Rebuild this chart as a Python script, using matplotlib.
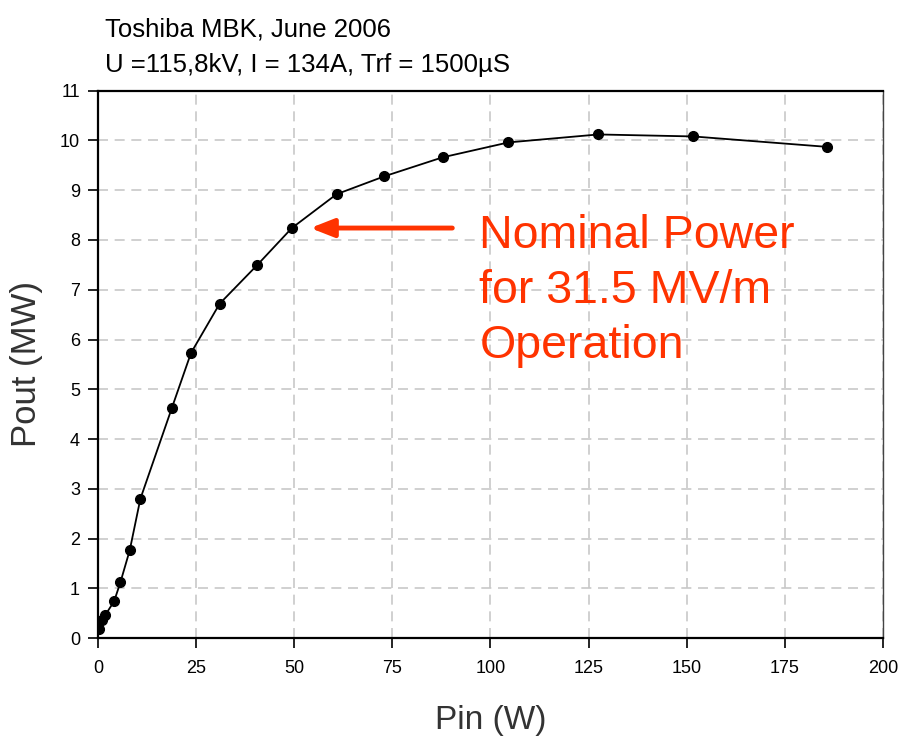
import matplotlib
matplotlib.use('Agg')
import matplotlib.pyplot as plt

# Toshiba MBK transfer curve
pin_w = [0.3, 1.1, 1.8, 4.1, 5.7, 8.1, 10.8, 18.8, 23.7, 31.0, 40.5, 49.4,
         60.8, 73.0, 87.8, 104.6, 127.5, 151.7, 185.9]
pout_mw = [0.19, 0.36, 0.46, 0.74, 1.12, 1.77, 2.80, 4.62, 5.73, 6.72, 7.49,
           8.24, 8.92, 9.28, 9.66, 9.96, 10.12, 10.08, 9.87]

x_ticks = [0, 25, 50, 75, 100, 125, 150, 175, 200]
y_ticks = list(range(0, 12))

title_lines = ["Toshiba MBK, June 2006", "U =115,8kV, I = 134A, Trf = 1500\u00b5S"]
note = "Nominal Power\nfor 31.5 MV/m\nOperation"
note_at = (49.4, 8.24)

plt.rcParams['font.family'] = ['Liberation Sans', 'DejaVu Sans']

fig = plt.figure(figsize=(8.99, 7.43), dpi=100)
ax = fig.add_axes([0.109, 0.141, 0.873, 0.737])

ax.plot(pin_w, pout_mw, color='black', lw=1.3, marker='o', ms=7, zorder=3)

ax.set_xlim(0, 200)
ax.set_ylim(0, 11)
ax.set_xticks(x_ticks)
ax.set_yticks(y_ticks)
ax.tick_params(labelsize=13, direction='out', length=7, width=1.2)
ax.tick_params(axis='x', pad=9)
ax.tick_params(axis='y', pad=6)
ax.grid(True, color='#c8c8c8', ls=(0, (6, 4)), lw=1.2)
ax.set_axisbelow(True)

for side in ['left', 'bottom', 'top']:
    ax.spines[side].set_linewidth(1.6)
ax.spines['right'].set_linewidth(1.0)
ax.spines['right'].set_color('#444444')

ax.set_xlabel('Pin (W)', fontsize=24, color='#333333', labelpad=20)
ax.set_ylabel('Pout (MW)', fontsize=25, color='#333333', labelpad=12)

fig.text(0.117, 1 - 36 / 743, title_lines[0], fontsize=18.5, va='baseline')
fig.text(0.117, 1 - 72 / 743, title_lines[1], fontsize=18.5, va='baseline')

red = '#ff3300'
ax.annotate('', xy=(note_at[0] + 4, note_at[1]), xytext=(91, note_at[1]),
            arrowprops=dict(arrowstyle='-|>,head_length=1.4,head_width=0.55',
                            color=red, lw=3.5))
# baseline alignment of a multi-line text anchors the last line
ax.text(97.2, 5.63, note, color=red, fontsize=33.5, va='baseline', ha='left',
        linespacing=1.33)

fig.savefig('out.png', dpi=100)
